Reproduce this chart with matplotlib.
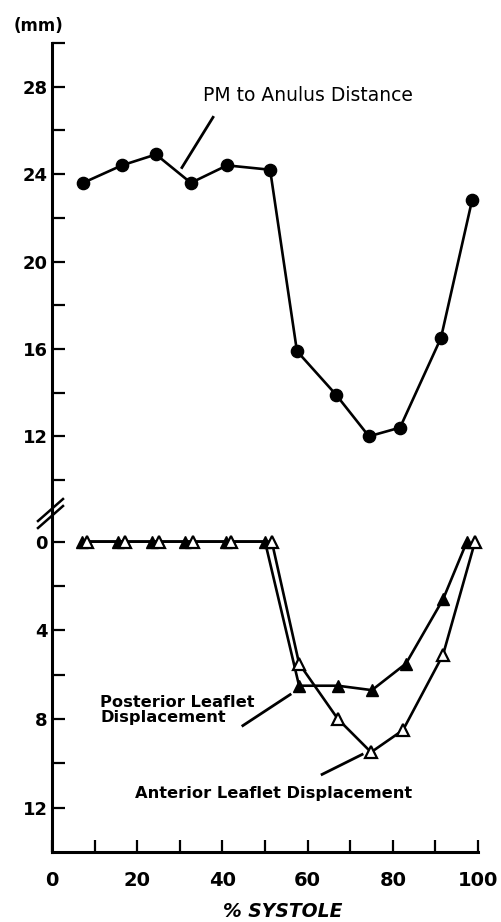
import matplotlib
matplotlib.use('Agg')
import matplotlib.pyplot as plt
from matplotlib.lines import Line2D

# data
pm_x = [7.3, 16.4, 24.4, 32.6, 41.1, 51.2, 57.5, 66.7, 74.4, 81.7, 91.3, 98.6]
pm_y = [23.6, 24.4, 24.9, 23.6, 24.4, 24.2, 15.9, 13.9, 12.0, 12.4, 16.5, 22.8]

post_x = [7.0, 15.5, 23.5, 31.2, 40.8, 50.0, 58.0, 67.1, 75.1, 83.1, 91.8, 97.4]
post_y = [0, 0, 0, 0, 0, 0, 6.5, 6.5, 6.7, 5.5, 2.6, 0]

ant_x = [8.2, 17.1, 25.1, 33.1, 42.0, 51.6, 58.0, 67.1, 74.9, 82.4, 91.8, 99.3]
ant_y = [0, 0, 0, 0, 0, 0, 5.5, 8.0, 9.5, 8.5, 5.1, 0]

x_ticks = [0, 20, 40, 60, 80, 100]
top_ticks = [12, 16, 20, 24, 28]
bot_ticks = [0, 4, 8, 12]

W, H = 502, 922
fig = plt.figure(figsize=(W / 100, H / 100), dpi=100)

def fx(px):
    return px / W

def fy(py):
    return 1 - py / H

left, right = fx(52), fx(478)
ax_top = fig.add_axes([left, fy(515), right - left, fy(43) - fy(515)])
ax_bot = fig.add_axes([left, fy(852), right - left, fy(515) - fy(852)])

tick_font = dict(family='DejaVu Sans', weight='bold', size=13)
lw = 1.9
spine_w = 2.2

for ax in (ax_top, ax_bot):
    ax.set_xlim(0, 100)
    for s in ('top', 'right'):
        ax.spines[s].set_visible(False)
    ax.spines['left'].set_linewidth(spine_w)
    ax.spines['bottom'].set_linewidth(spine_w)
    ax.tick_params(axis='both', which='both', direction='in', width=1.6,
                   length=9, pad=3)

# upper panel
ax_top.set_ylim(8.4, 30)
ax_top.spines['bottom'].set_visible(False)
ax_top.set_xticks([])
ax_top.set_yticks(top_ticks)
ax_top.set_yticks([10, 14, 18, 22, 26, 30], minor=True)
ax_top.set_yticklabels([str(t) for t in top_ticks], fontdict=tick_font)
ax_top.plot(pm_x, pm_y, color='black', lw=lw, marker='o', ms=8.8,
            markerfacecolor='black', clip_on=False)

# lower panel (inverted)
ax_bot.set_ylim(14, -1.2)
ax_bot.set_yticks(bot_ticks)
ax_bot.set_yticks([2, 6, 10], minor=True)
ax_bot.set_yticklabels([str(t) for t in bot_ticks], fontdict=tick_font)
ax_bot.set_xticks(x_ticks)
ax_bot.set_xticks([10, 30, 50, 70, 90], minor=True)
ax_bot.set_xticklabels([str(t) for t in x_ticks], fontdict=dict(tick_font, size=14))
ax_bot.tick_params(axis='x', which='both', pad=14)
ax_bot.plot(post_x, post_y, color='black', lw=lw, marker='^', ms=9,
            markerfacecolor='black', clip_on=False, zorder=3)
ax_bot.plot(ant_x, ant_y, color='black', lw=lw, marker='^', ms=9,
            markerfacecolor='white', markeredgewidth=1.6, clip_on=False, zorder=4)

# annotations
ax_top.text(35.4, 27.6, 'PM to Anulus Distance', family='DejaVu Sans',
            size=13.5, va='center', ha='left')
ax_top.plot([37.8, 30.5], [26.6, 24.3], color='black', lw=2)

ann_font = dict(family='DejaVu Sans', weight='bold', size=11.7)
ax_bot.text(11.3, 7.6, 'Posterior Leaflet\nDisplacement', va='center', ha='left',
            linespacing=1.0, **ann_font)
ax_bot.plot([44.8, 55.9], [8.3, 6.9], color='black', lw=2)
ax_bot.text(19.5, 11.35, 'Anterior Leaflet Displacement', va='center', ha='left',
            **ann_font)
ax_bot.plot([63.4, 72.8], [10.5, 9.6], color='black', lw=2)

# axis break marks
for dy in (0, 7):
    fig.add_artist(Line2D([fx(38), fx(63)], [fy(525 - dy + 3), fy(503 - dy + 3)],
                          color='black', lw=1.8))

fig.text(fx(39), fy(26), '(mm)', family='DejaVu Sans', weight='bold', size=12,
         ha='center', va='center')
fig.text(fx(283), fy(911), '% SYSTOLE', family='DejaVu Sans', weight='bold',
         style='italic', size=13.5, ha='center', va='center')

fig.savefig('out.png', dpi=100)
